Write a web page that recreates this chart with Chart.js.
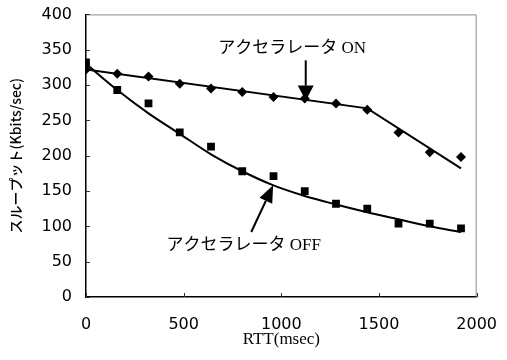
<!DOCTYPE html>
<html>
<head>
<meta charset="utf-8">
<script src="https://cdn.jsdelivr.net/npm/chart.js@4.4.1/dist/chart.umd.min.js"></script>
<style>
    html, body { margin: 0; padding: 0; background: #fff; }
    #wrap { width: 507px; height: 360px; position: relative; }
</style>
</head>
<body>
<div id="wrap"><canvas id="rttChart"></canvas></div>
<script>
// RTT (msec) of each measurement
const rttMs = [0, 160, 320, 480, 640, 800, 960, 1120, 1280, 1440, 1600, 1760, 1920];
// measured throughput (Kbits/sec)
const throughputOn = [322, 316, 312, 302, 295, 290, 283, 281, 274, 265, 233, 205, 198];
const throughputOff = [332, 293, 274, 233, 213, 178, 171, 150, 132, 125, 104, 104, 97];

// fitted lines
const onTrendX = [0, 1440, 1920];
const onTrendY = [322, 267, 182];
const offCurveX = [0, 160, 320, 480, 640, 800, 960, 1120, 1280, 1440, 1600, 1760, 1920];
const offCurveY = [330, 293, 260, 231, 202, 178, 158, 143, 131, 120, 110, 100, 92];

const xTicks = [0, 500, 1000, 1500, 2000];
const yTicks = [0, 50, 100, 150, 200, 250, 300, 350, 400];

// annotations (data coordinates)
const labelOn = { text: 'アクセラレータ ON', x: 1055, y: 352 };
const labelOff = { text: 'アクセラレータ OFF', x: 807, y: 73 };
const arrowOn = { from: [1125, 335], to: [1125, 278] };
const arrowOff = { from: [846, 92], to: [958, 158] };

const toPts = (xs, ys) => xs.map((x, i) => ({ x: x, y: ys[i] }));

function drawArrow(ctx, x1, y1, x2, y2, headLen, headHalf) {
    const ang = Math.atan2(y2 - y1, x2 - x1);
    const bx = x2 - Math.cos(ang) * headLen;
    const by = y2 - Math.sin(ang) * headLen;
    ctx.beginPath();
    ctx.moveTo(x1, y1);
    ctx.lineTo(bx, by);
    ctx.stroke();
    ctx.beginPath();
    ctx.moveTo(x2, y2);
    ctx.lineTo(bx + Math.sin(ang) * headHalf, by - Math.cos(ang) * headHalf);
    ctx.lineTo(bx - Math.sin(ang) * headHalf, by + Math.cos(ang) * headHalf);
    ctx.closePath();
    ctx.fill();
}

const decorations = {
    id: 'decorations',
    afterDraw(chart) {
        const ctx = chart.ctx;
        const a = chart.chartArea;
        const xs = chart.scales.x, ys = chart.scales.y;
        ctx.save();
        // frame top / right (light)
        ctx.strokeStyle = '#8a8a8a';
        ctx.lineWidth = 1;
        ctx.beginPath();
        ctx.moveTo(a.left, a.top + 0.5);
        ctx.lineTo(a.right - 0.5, a.top + 0.5);
        ctx.lineTo(a.right - 0.5, a.bottom);
        ctx.stroke();
        // inward tick marks
        ctx.strokeStyle = '#333';
        ctx.beginPath();
        yTicks.forEach(v => {
            const py = Math.round(ys.getPixelForValue(v)) + 0.5;
            ctx.moveTo(a.left, py);
            ctx.lineTo(a.left + 4, py);
        });
        xTicks.forEach(v => {
            const px = Math.round(xs.getPixelForValue(v)) + 0.5;
            ctx.moveTo(px, a.bottom);
            ctx.lineTo(px, a.bottom - 4);
        });
        ctx.stroke();

        // arrows
        ctx.strokeStyle = '#000';
        ctx.fillStyle = '#000';
        ctx.lineWidth = 2;
        drawArrow(ctx,
            xs.getPixelForValue(arrowOn.from[0]), ys.getPixelForValue(arrowOn.from[1]),
            xs.getPixelForValue(arrowOn.to[0]), ys.getPixelForValue(arrowOn.to[1]), 15, 8);
        drawArrow(ctx,
            xs.getPixelForValue(arrowOff.from[0]), ys.getPixelForValue(arrowOff.from[1]),
            xs.getPixelForValue(arrowOff.to[0]), ys.getPixelForValue(arrowOff.to[1]), 17, 7);

        // labels
        ctx.font = "17px 'Liberation Serif', 'Noto Sans CJK JP'";
        ctx.textAlign = 'center';
        ctx.textBaseline = 'middle';
        [labelOn, labelOff].forEach(l => {
            ctx.fillText(l.text, xs.getPixelForValue(l.x), ys.getPixelForValue(l.y));
        });
        ctx.restore();
    }
};

new Chart(document.getElementById('rttChart'), {
    type: 'scatter',
    data: {
        datasets: [
            {
                label: 'ON',
                data: toPts(rttMs, throughputOn),
                pointStyle: 'rectRot',
                pointRadius: 5,
                backgroundColor: '#000',
                borderColor: '#000',
                borderWidth: 0
            },
            {
                label: 'OFF',
                data: toPts(rttMs, throughputOff),
                pointStyle: 'rect',
                pointRadius: 5.5,
                backgroundColor: '#000',
                borderColor: '#000',
                borderWidth: 0
            },
            {
                type: 'line',
                label: 'ON fit',
                data: toPts(onTrendX, onTrendY),
                borderColor: '#000',
                borderWidth: 2,
                pointRadius: 0,
                fill: false
            },
            {
                type: 'line',
                label: 'OFF fit',
                data: toPts(offCurveX, offCurveY),
                borderColor: '#000',
                borderWidth: 2,
                pointRadius: 0,
                cubicInterpolationMode: 'monotone',
                fill: false
            }
        ]
    },
    options: {
        responsive: true,
        maintainAspectRatio: false,
        animation: false,
        events: [],
        layout: { padding: { top: 0, right: 3, left: 0, bottom: 0 } },
        plugins: { legend: { display: false }, tooltip: { enabled: false } },
        scales: {
            x: {
                type: 'linear',
                min: 0,
                max: 2000,
                afterFit: s => { s.height = 63; },
                afterBuildTicks: s => { s.ticks = xTicks.map(v => ({ value: v })); },
                grid: { display: false },
                border: { display: true, color: '#000', width: 1.5 },
                ticks: {
                    color: '#000', padding: 10,
                    font: { family: "'DejaVu Sans'", size: 16 },
                    callback: v => String(v)
                },
                title: {
                    display: true,
                    text: 'RTT(msec)',
                    color: '#000',
                    padding: { top: 10, bottom: 10 },
                    font: { family: "'Liberation Serif'", size: 17 }
                }
            },
            y: {
                min: 0,
                max: 400,
                afterFit: s => { s.width = 86; },
                afterBuildTicks: s => { s.ticks = yTicks.map(v => ({ value: v })); },
                grid: { display: false },
                border: { display: true, color: '#000', width: 1.5 },
                ticks: {
                    color: '#000', padding: 6,
                    font: { family: "'DejaVu Sans'", size: 16, lineHeight: 1.05 },
                    callback: v => String(v)
                },
                title: {
                    display: true,
                    text: 'スループット(Kbits/sec)',
                    color: '#000',
                    padding: { top: 7, bottom: 7 },
                    font: { family: "'Noto Sans CJK JP'", size: 14, weight: '500' }
                }
            }
        }
    },
    plugins: [decorations]
});
</script>
</body>
</html>
